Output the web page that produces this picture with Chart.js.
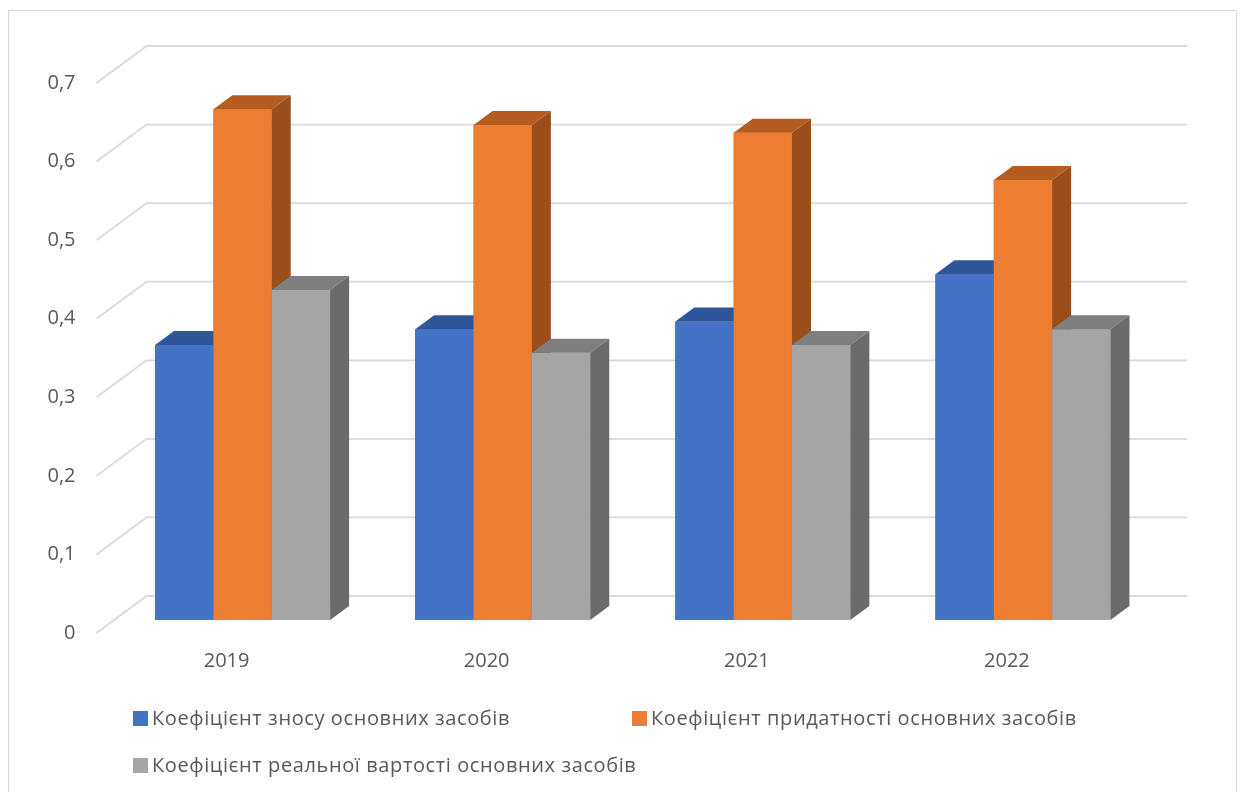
<!DOCTYPE html>
<html lang="uk">
<head>
<meta charset="utf-8">
<title>Коефіцієнти основних засобів</title>
<script src="https://cdn.jsdelivr.net/npm/chart.js@4.4.1/dist/chart.umd.min.js"></script>
<style>
    html, body { margin: 0; padding: 0; background: #ffffff; }
    #wrap { position: relative; width: 1245px; height: 792px; overflow: hidden; }
    #frame { position: absolute; left: 8px; top: 10px; width: 1229px; height: 800px; border: 1px solid #d9d9d9; box-sizing: border-box; pointer-events: none; }
</style>
</head>
<body>
<div id="wrap">
    <canvas id="coefChart"></canvas>
    <div id="frame"></div>
</div>
<script>
// роки та значення коефіцієнтів
const years = ['2019', '2020', '2021', '2022'];
const znosu = [0.35, 0.37, 0.38, 0.44];
const prydatnosti = [0.65, 0.63, 0.62, 0.56];
const realnoiVartosti = [0.42, 0.34, 0.35, 0.37];
const seriesNames = [
    'Коефіцієнт зносу основних засобів',
    'Коефіцієнт придатності основних засобів',
    'Коефіцієнт реальної вартості основних засобів'
];
const yTicks = [0, 0.1, 0.2, 0.3, 0.4, 0.5, 0.6, 0.7];

// кольори: передня грань, верх, бік
const faceColors = [
    { front: '#4472c4', top: '#30569a', side: '#2c4f8e' },
    { front: '#ed7d31', top: '#b55c21', side: '#9a4e1c' },
    { front: '#a5a5a5', top: '#7f7f7f', side: '#6b6b6b' }
];

const FONT = '"Open Sans", "Noto Sans", sans-serif';
const TEXT_COLOR = '#595959';

// зсуви для псевдо-3D
const BAR_DEPTH = { dx: 19, dy: -14 };
const WALL_BACK = { dx: 34, dy: -24 };
const WALL_FRONT = { dx: -16, dy: 13 };

const gridWalls = {
    id: 'gridWalls',
    beforeDatasetsDraw(chart) {
        const { ctx, chartArea, scales: { y } } = chart;
        ctx.save();
        ctx.strokeStyle = '#d9d9d9';
        ctx.lineWidth = 1.8;
        yTicks.forEach(v => {
            const py = y.getPixelForValue(v);
            ctx.beginPath();
            ctx.moveTo(chartArea.left + WALL_FRONT.dx, py + WALL_FRONT.dy);
            ctx.lineTo(chartArea.left + WALL_BACK.dx, py + WALL_BACK.dy);
            ctx.lineTo(chartArea.right + WALL_BACK.dx, py + WALL_BACK.dy);
            ctx.stroke();
        });
        ctx.restore();
    }
};

function fillPoly(ctx, pts, color) {
    ctx.fillStyle = color;
    ctx.beginPath();
    ctx.moveTo(pts[0][0], pts[0][1]);
    for (let i = 1; i < pts.length; i++) ctx.lineTo(pts[i][0], pts[i][1]);
    ctx.closePath();
    ctx.fill();
}

// малюємо стовпчики зліва направо, щоб правий перекривав бік лівого
const bars3d = {
    id: 'bars3d',
    afterDatasetsDraw(chart) {
        const ctx = chart.ctx;
        const metas = chart.data.datasets.map((d, i) => chart.getDatasetMeta(i));
        ctx.save();
        for (let c = 0; c < years.length; c++) {
            metas.forEach((meta, s) => {
                const bar = meta.data[c];
                const p = bar.getProps(['x', 'y', 'base', 'width'], true);
                const x1 = p.x - p.width / 2, x2 = p.x + p.width / 2;
                const top = p.y, bottom = p.base;
                const { dx, dy } = BAR_DEPTH;
                const col = faceColors[s];
                fillPoly(ctx, [[x1, top], [x2, top], [x2, bottom], [x1, bottom]], col.front);
                fillPoly(ctx, [[x1, top], [x1 + dx, top + dy], [x2 + dx, top + dy], [x2, top]], col.top);
                fillPoly(ctx, [[x2, top], [x2 + dx, top + dy], [x2 + dx, bottom + dy], [x2, bottom]], col.side);
            });
        }
        ctx.restore();
    }
};

// легенда у дві колонки
const gridLegend = {
    id: 'gridLegend',
    afterDraw(chart) {
        const ctx = chart.ctx;
        const cols = [133, 632];
        const rows = [719, 766];
        ctx.save();
        ctx.font = '20px ' + FONT;
        ctx.letterSpacing = '0.6px';
        ctx.textBaseline = 'middle';
        ctx.textAlign = 'left';
        chart.data.datasets.forEach((ds, i) => {
            const x = cols[i % 2];
            const yy = rows[Math.floor(i / 2)];
            ctx.fillStyle = ds.backgroundColor;
            ctx.fillRect(x, yy - 8, 15, 15);
            ctx.fillStyle = TEXT_COLOR;
            ctx.fillText(ds.label, x + 19, yy);
        });
        ctx.restore();
    }
};

const data = {
    labels: years,
    datasets: [
        { label: seriesNames[0], data: znosu, backgroundColor: faceColors[0].front },
        { label: seriesNames[1], data: prydatnosti, backgroundColor: faceColors[1].front },
        { label: seriesNames[2], data: realnoiVartosti, backgroundColor: faceColors[2].front }
    ]
};

const options = {
    responsive: true,
    maintainAspectRatio: false,
    animation: false,
    layout: { padding: { left: 0, right: 92, top: 70, bottom: 0 } },
    datasets: { bar: { categoryPercentage: 0.673, barPercentage: 1.0 } },
    plugins: {
        legend: { display: false },
        tooltip: { enabled: false }
    },
    scales: {
        x: {
            grid: { display: false, drawTicks: false },
            border: { display: false },
            ticks: { color: TEXT_COLOR, font: { family: FONT, size: 20 }, padding: 29, labelOffset: -16 },
            afterFit(scale) { scale.height = 172; }
        },
        y: {
            min: 0,
            max: 0.7,
            grid: { display: false, drawTicks: false },
            border: { display: false },
            ticks: {
                stepSize: 0.1,
                color: TEXT_COLOR,
                font: { family: FONT, size: 20 },
                padding: 37,
                labelOffset: 13,
                callback: v => String(Math.round(v * 10) / 10).replace('.', ',')
            },
            afterFit(scale) { scale.width = 112.5; }
        }
    }
};

new Chart('coefChart', { type: 'bar', data, options, plugins: [gridWalls, bars3d, gridLegend] });
</script>
</body>
</html>
